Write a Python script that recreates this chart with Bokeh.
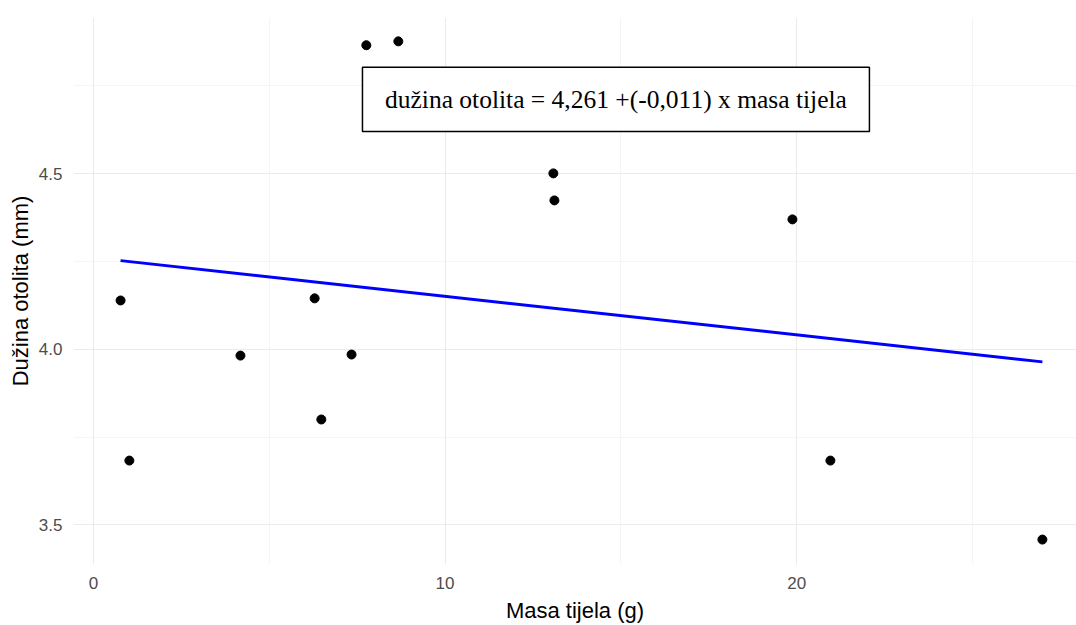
from bokeh.plotting import figure
from bokeh.models import FixedTicker, BoxAnnotation, Label, Range1d, PrintfTickFormatter
from bokeh.embed import file_html
from bokeh.resources import INLINE

# Data
masa_tijela = [0.77, 1.02, 4.18, 6.29, 6.48, 7.34, 7.76, 8.67, 13.08, 13.11, 19.88, 20.96, 26.99]
duzina_otolita = [4.139, 3.683, 3.982, 4.145, 3.800, 3.985, 4.866, 4.877, 4.501, 4.424, 4.370, 3.683, 3.458]
intercept = 4.261
slope = -0.011
x_ticks = [0, 10, 20]
x_minor = [5, 15, 25]
y_ticks = [3.5, 4.0, 4.5]
y_minor = [3.75, 4.25, 4.75]
equation = "dužina otolita = 4,261 +(-0,011) x masa tijela"

p = figure(width=1076, height=625, output_backend="svg", toolbar_location=None,
           x_range=Range1d(-0.569, 27.96), y_range=Range1d(3.387, 4.945),
           min_border_left=73, min_border_right=0, min_border_top=17, min_border_bottom=61)
p.outline_line_color = None
p.background_fill_color = "white"

# regression line
xl = [min(masa_tijela), max(masa_tijela)]
yl = [intercept + slope * v for v in xl]
p.line(xl, yl, line_color="#0000ff", line_width=3)

p.scatter(masa_tijela, duzina_otolita, size=9, color="black")

for ax, ticks, minor in ((p.xaxis, x_ticks, x_minor), (p.yaxis, y_ticks, y_minor)):
    ax.ticker = FixedTicker(ticks=ticks, minor_ticks=minor)
    ax.axis_line_color = None
    ax.major_tick_line_color = None
    ax.minor_tick_line_color = None
    ax.major_label_text_font = "Liberation Sans"
    ax.major_label_text_font_size = "17px"
    ax.major_label_text_color = "#4d4d4d"
    ax.axis_label_text_font = "Liberation Sans"
    ax.axis_label_text_font_size = "22px"
    ax.axis_label_text_font_style = "normal"
    ax.axis_label_text_color = "black"

p.yaxis.formatter = PrintfTickFormatter(format="%.1f")
p.xaxis.axis_label = "Masa tijela (g)"
p.yaxis.axis_label = "Dužina otolita (mm)"
p.xaxis.major_label_standoff = 6
p.yaxis.major_label_standoff = 5
p.xaxis.axis_label_standoff = 6
p.yaxis.axis_label_standoff = 3

for g in (p.xgrid, p.ygrid):
    g.grid_line_color = "#ebebeb"
    g.grid_line_width = 1.1
    g.minor_grid_line_color = "#f2f2f2"
    g.minor_grid_line_width = 0.8

box = BoxAnnotation(left=7.65, right=22.07, bottom=4.620, top=4.803,
                    fill_color="white", fill_alpha=1.0,
                    line_color="black", line_alpha=1.0, line_width=1.5)
p.add_layout(box)
lab = Label(x=14.86, y=4.711, text=equation, text_align="center", text_baseline="middle",
            text_font="Liberation Serif", text_font_size="25.5px", text_color="black")
p.add_layout(lab)

open("out.html", "w").write(file_html(p, INLINE))
